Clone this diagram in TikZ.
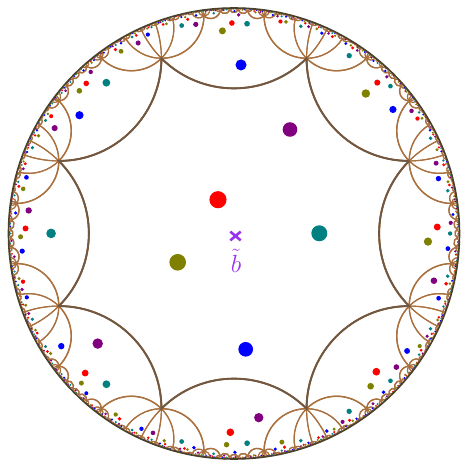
\documentclass[tikz,border=0pt]{standalone}
\definecolor{dred}{RGB}{255,0,0}
\definecolor{dteal}{RGB}{0,128,128}
\definecolor{dolive}{RGB}{128,128,0}
\definecolor{dblue}{RGB}{0,0,255}
\definecolor{dpurple}{RGB}{128,0,128}
\definecolor{tilebrown}{RGB}{170,112,62}
\definecolor{coreedge}{RGB}{112,88,66}
\definecolor{rimcol}{RGB}{72,66,42}
\definecolor{markviolet}{RGB}{152,52,240}
\tikzset{
  tilearc/.style={draw=tilebrown},
  corearc/.style={draw=coreedge, line width=1.9pt},
  rim/.style={draw=rimcol, line width=1.6pt},
  basemark/.style={draw=markviolet, line width=2.6pt},
}

\ExplSyntaxOn
\fp_const:Nn \c_hyp_A_fp { 1 + sqrt(2) }
\fp_const:Nn \c_hyp_B_fp { sqrt( 2 + 2*sqrt(2) ) }
\fp_const:Nn \c_hyp_S_fp { 225.5 }
\fp_const:Nn \c_hyp_rv_fp { 2^(-0.25) }
\fp_const:Nn \c_hyp_eps_fp { 0.003 }
\int_const:Nn \c_hyp_maxdepth_int { 10 }

\int_step_inline:nnn { 0 } { 7 }
  {
    \fp_const:cn { c_hyp_vx_#1_fp } { \c_hyp_rv_fp * cosd(22.5 + 45*#1) }
    \fp_const:cn { c_hyp_vy_#1_fp } { \c_hyp_rv_fp * sind(22.5 + 45*#1) }
    \fp_const:cn { c_hyp_gc_#1_fp } { cosd(45*#1) }
    \fp_const:cn { c_hyp_gs_#1_fp } { sind(45*#1) }
  }
\int_step_inline:nnn { 0 } { 8 }
  {
    \fp_new:c { l_hyp_px_#1_fp }
    \fp_new:c { l_hyp_py_#1_fp }
  }
\fp_new:N \l_hyp_s_fp
\fp_new:N \l_hyp_lw_fp
\fp_new:N \l_hyp_nr_fp
\fp_new:N \l_hyp_ni_fp
\fp_new:N \l_hyp_dr_fp
\fp_new:N \l_hyp_di_fp
\fp_new:N \l_hyp_dd_fp
\fp_new:N \l_hyp_wx_fp
\fp_new:N \l_hyp_wy_fp
\fp_new:N \l_hyp_r_fp
\fp_new:N \l_hyp_pp_fp
\fp_new:N \l_hyp_qq_fp
\fp_new:N \l_hyp_det_fp
\fp_new:N \l_hyp_cx_fp
\fp_new:N \l_hyp_cy_fp
\fp_new:N \l_hyp_rho_fp
\fp_new:N \l_hyp_aP_fp
\fp_new:N \l_hyp_aQ_fp
\fp_new:N \l_hyp_da_fp
\tl_new:N \l_hyp_path_tl
\tl_new:N \g_hyp_arcs_tl
\tl_new:N \g_hyp_dots_tl

\cs_new_protected:Npn \hyp_apply:nnnnnn #1#2#3#4#5#6
  {
    \fp_set:Nn \l_hyp_nr_fp { (#1)*(#5) - (#2)*(#6) + (#3) }
    \fp_set:Nn \l_hyp_ni_fp { (#1)*(#6) + (#2)*(#5) + (#4) }
    \fp_set:Nn \l_hyp_dr_fp { (#3)*(#5) + (#4)*(#6) + (#1) }
    \fp_set:Nn \l_hyp_di_fp { (#3)*(#6) - (#4)*(#5) - (#2) }
    \fp_set:Nn \l_hyp_dd_fp { \l_hyp_dr_fp^2 + \l_hyp_di_fp^2 }
    \fp_set:Nn \l_hyp_wx_fp { (\l_hyp_nr_fp*\l_hyp_dr_fp + \l_hyp_ni_fp*\l_hyp_di_fp)/\l_hyp_dd_fp }
    \fp_set:Nn \l_hyp_wy_fp { (\l_hyp_ni_fp*\l_hyp_dr_fp - \l_hyp_nr_fp*\l_hyp_di_fp)/\l_hyp_dd_fp }
  }

\cs_new_protected:Npn \hyp_dot:nnnnnnn #1#2#3#4#5#6#7
  {
    \hyp_apply:nnnnnn {#1}{#2}{#3}{#4}{#5}{#6}
    \fp_set:Nn \l_hyp_r_fp { 8.7 * (1 - \l_hyp_wx_fp^2 - \l_hyp_wy_fp^2)^0.55 }
    \fp_compare:nNnT { \l_hyp_r_fp } > { 0.3 }
      {
        \tl_gput_right:Nx \g_hyp_dots_tl
          {
            \exp_not:N \fill [#7] ( \fp_eval:n { round(\l_hyp_wx_fp*\c_hyp_S_fp,3) } pt ,
              \fp_eval:n { round(\l_hyp_wy_fp*\c_hyp_S_fp,3) } pt )
              circle [ radius = \fp_eval:n { round(\l_hyp_r_fp,3) } pt ] ;
          }
      }
  }

\cs_new_protected:Npn \hyp_arc:NNNN #1#2#3#4
  {
    \fp_set:Nn \l_hyp_pp_fp { 1 + #1^2 + #2^2 }
    \fp_set:Nn \l_hyp_qq_fp { 1 + #3^2 + #4^2 }
    \fp_set:Nn \l_hyp_det_fp { 2 * ( #1 * #4 - #2 * #3 ) }
    \fp_set:Nn \l_hyp_cx_fp { ( \l_hyp_pp_fp * #4 - \l_hyp_qq_fp * #2 ) / \l_hyp_det_fp }
    \fp_set:Nn \l_hyp_cy_fp { ( #1 * \l_hyp_qq_fp - #3 * \l_hyp_pp_fp ) / \l_hyp_det_fp }
    \fp_set:Nn \l_hyp_rho_fp { sqrt( abs( \l_hyp_cx_fp^2 + \l_hyp_cy_fp^2 - 1 ) ) }
    \fp_set:Nn \l_hyp_aP_fp { atand( #2 - \l_hyp_cy_fp , #1 - \l_hyp_cx_fp ) }
    \fp_set:Nn \l_hyp_aQ_fp { atand( #4 - \l_hyp_cy_fp , #3 - \l_hyp_cx_fp ) }
    \fp_set:Nn \l_hyp_da_fp { \l_hyp_aQ_fp - \l_hyp_aP_fp }
    \fp_set:Nn \l_hyp_da_fp { \l_hyp_da_fp - 360 * round( \l_hyp_da_fp / 360 ) }
    \tl_put_right:Nx \l_hyp_path_tl
      {
        ~ arc [ start~angle = \fp_eval:n { round(\l_hyp_aP_fp, 4) } ,
              delta~angle = \fp_eval:n { round(\l_hyp_da_fp, 4) } ,
              radius = \fp_eval:n { round(\l_hyp_rho_fp * \c_hyp_S_fp, 4) } pt ]
      }
  }
\cs_generate_variant:Nn \hyp_arc:NNNN { cccc }

\cs_new_protected:Npn \hyp_draw_tile:nnnnn #1#2#3#4#5
  {
    \int_step_inline:nnn { 0 } { 7 }
      {
        \hyp_apply:nnnnnn {#1}{#2}{#3}{#4} { \use:c { c_hyp_vx_##1_fp } } { \use:c { c_hyp_vy_##1_fp } }
        \fp_set_eq:cN { l_hyp_px_##1_fp } \l_hyp_wx_fp
        \fp_set_eq:cN { l_hyp_py_##1_fp } \l_hyp_wy_fp
      }
    \fp_set_eq:cc { l_hyp_px_8_fp } { l_hyp_px_0_fp }
    \fp_set_eq:cc { l_hyp_py_8_fp } { l_hyp_py_0_fp }
    \tl_set:Nx \l_hyp_path_tl
      {
        \exp_not:N \draw [ #5 ]
        ( \fp_eval:n { round( (\fp_use:c { l_hyp_px_0_fp }) * \c_hyp_S_fp , 3) } pt ,
          \fp_eval:n { round( (\fp_use:c { l_hyp_py_0_fp }) * \c_hyp_S_fp , 3) } pt )
      }
    \int_step_inline:nnn { 0 } { 7 }
      {
        \hyp_arc:cccc { l_hyp_px_##1_fp } { l_hyp_py_##1_fp }
          { l_hyp_px_ \int_eval:n { ##1 + 1 } _fp } { l_hyp_py_ \int_eval:n { ##1 + 1 } _fp }
      }
    \tl_put_right:Nn \l_hyp_path_tl { ; }
    \tl_gput_right:NV \g_hyp_arcs_tl \l_hyp_path_tl
  }

\cs_new_protected:Npn \hyp_tile:nnnnnnnn #1#2#3#4#5#6#7#8
  {
    \fp_set:Nn \l_hyp_s_fp { 1 - ((#3)^2 + (#4)^2) / ((#1)^2 + (#2)^2) }
    \fp_compare:nNnT { \l_hyp_s_fp } > { \c_hyp_eps_fp }
      {
        \fp_set:Nn \l_hyp_lw_fp { max(0.5, 1.7 * (\l_hyp_s_fp)^0.12) }
        \use:e
          {
            \exp_not:N \hyp_draw_tile:nnnnn {#1}{#2}{#3}{#4}
              { tilearc, line~width = \fp_eval:n { round(\l_hyp_lw_fp,3) } pt }
          }
        \hyp_dot:nnnnnnn {#1}{#2}{#3}{#4}{-0.0710}{0.1499}{dred}
        \hyp_dot:nnnnnnn {#1}{#2}{#3}{#4}{0.3783}{0.0009}{dteal}
        \hyp_dot:nnnnnnn {#1}{#2}{#3}{#4}{-0.2497}{-0.1277}{dolive}
        \hyp_dot:nnnnnnn {#1}{#2}{#3}{#4}{0.0519}{-0.5135}{dblue}
        \hyp_dot:nnnnnnn {#1}{#2}{#3}{#4}{0.2483}{0.4612}{dpurple}
        \int_compare:nNnT {#6} < { \c_hyp_maxdepth_int }
          {
            \int_step_inline:nnn { 0 } { 7 }
              { \hyp_child:nnnnnnnnn {#1}{#2}{#3}{#4}{#5}{#6}{#7}{#8}{##1} }
          }
      }
  }

\cs_new_protected:Npn \hyp_go:nnnnnnnn #1#2#3#4#5#6#7#8
  {
    \use:e
      {
        \exp_not:N \hyp_tile:nnnnnnnn
          { \fp_eval:n { \c_hyp_A_fp*(#1) + \c_hyp_B_fp*((#3)*(\fp_use:c{c_hyp_gc_#5_fp}) + (#4)*(\fp_use:c{c_hyp_gs_#5_fp})) } }
          { \fp_eval:n { \c_hyp_A_fp*(#2) + \c_hyp_B_fp*((#4)*(\fp_use:c{c_hyp_gc_#5_fp}) - (#3)*(\fp_use:c{c_hyp_gs_#5_fp})) } }
          { \fp_eval:n { \c_hyp_B_fp*((#1)*(\fp_use:c{c_hyp_gc_#5_fp}) - (#2)*(\fp_use:c{c_hyp_gs_#5_fp})) + \c_hyp_A_fp*(#3) } }
          { \fp_eval:n { \c_hyp_B_fp*((#1)*(\fp_use:c{c_hyp_gs_#5_fp}) + (#2)*(\fp_use:c{c_hyp_gc_#5_fp})) + \c_hyp_A_fp*(#4) } }
          { #5 }
          { \int_eval:n { #6 + 1 } }
          { \int_eval:n { #7 } }
          { \int_eval:n { #8 } }
      }
  }

\cs_new_protected:Npn \hyp_child:nnnnnnnnn #1#2#3#4#5#6#7#8#9
  {
    \int_compare:nNnTF {#5} < { 0 }
      { \hyp_go:nnnnnnnn {#1}{#2}{#3}{#4}{#9}{#6}{0}{0} }
      {
        \int_case:nnF { \int_mod:nn { #9 - #5 + 8 } { 8 } }
          {
            { 4 } { \prg_do_nothing: }
            { 3 } { \int_compare:nNnT {#7} < { 3 } { \hyp_go:nnnnnnnn {#1}{#2}{#3}{#4}{#9}{#6}{#7+1}{0} } }
            { 5 } { \int_compare:nNnT {#8} < { 2 } { \hyp_go:nnnnnnnn {#1}{#2}{#3}{#4}{#9}{#6}{0}{#8+1} } }
          }
          { \hyp_go:nnnnnnnn {#1}{#2}{#3}{#4}{#9}{#6}{0}{0} }
      }
  }

\cs_new_protected:Npn \HypCompute
  {
    \tl_gclear:N \g_hyp_arcs_tl
    \tl_gclear:N \g_hyp_dots_tl
    \hyp_tile:nnnnnnnn {1}{0}{0}{0}{-1}{0}{0}{0}
    \hyp_draw_tile:nnnnn {1}{0}{0}{0}{corearc}
  }
\cs_new_protected:Npn \HypArcs { \tl_use:N \g_hyp_arcs_tl }
\cs_new_protected:Npn \HypDots { \tl_use:N \g_hyp_dots_tl }
\ExplSyntaxOff

\begin{document}
\begin{tikzpicture}
\HypCompute
\useasboundingbox (-234pt,-226.5pt) rectangle (227pt,233.5pt);
\fill[white] (-234pt,-226.5pt) rectangle (227pt,233.5pt);
\HypArcs
\HypDots
\draw[rim] (0,0) circle[radius=225.5pt];
\coordinate (xc) at (1.5pt,-2.5pt);
\draw[basemark] ([shift={(-5.2pt,-4.4pt)}]xc) -- ([shift={(5.2pt,4.4pt)}]xc);
\draw[basemark] ([shift={(-5.2pt,4.4pt)}]xc) -- ([shift={(5.2pt,-4.4pt)}]xc);
\node[anchor=base, text=markviolet, inner sep=0pt] (btilde) at (2pt,-39pt)
  {\fontsize{26}{30}\selectfont$\tilde{b}$};
\end{tikzpicture}
\end{document}
